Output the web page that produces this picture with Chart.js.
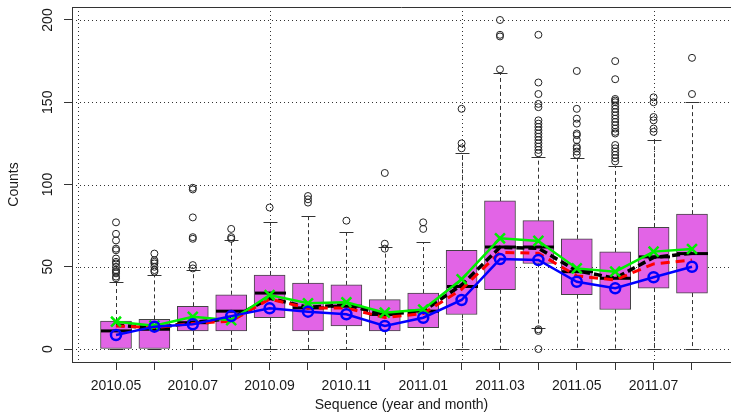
<!DOCTYPE html>
<html>
<head>
<meta charset="utf-8">
<script src="https://cdn.jsdelivr.net/npm/chart.js@4.4.0/dist/chart.umd.min.js"></script>
<style>
  html, body { margin: 0; padding: 0; background: #fff; overflow: hidden; }
  canvas { display: block; }
</style>
</head>
<body>
<canvas id="grafico" width="731" height="412"></canvas>
<script>
// meses da sequência (eixo x)
const meses = ['2010.05', '2010.06', '2010.07', '2010.08', '2010.09', '2010.10', '2010.11', '2010.12',
               '2011.01', '2011.02', '2011.03', '2011.04', '2011.05', '2011.06', '2011.07', '2011.08'];

// caixas: quartis, mediana e bigodes
const q1        = [0, 0, 11, 11, 19, 11, 14, 11, 13, 21, 36, 52, 33, 24, 37, 34];
const q3        = [17, 18, 26, 33, 45, 40, 39, 30, 34, 60, 90, 78, 67, 59, 74, 82];
const mediana   = [11, 12, 16, 23, 34, 25, 26, 21, 23, 38, 62, 62, 47, 43, 56, 58];
const bigodeInf = [0, 0, 0, 0, 0, 0, 0, 0, 0, 0, 0, 13, 0, 0, 0, 0];
const bigodeSup = [41, 45, 48, 66, 77, 81, 71, 62, 65, 119, 168, 117, 116, 111, 127, 150];

// pontos fora dos bigodes, um vetor por mês
const outliers = [
  [43, 44, 46, 47, 48, 50, 52, 53, 55, 60, 61, 66, 70, 77],
  [47, 48, 50, 52, 53, 54, 58],
  [49, 51, 67, 68, 80, 97, 98],
  [67, 68, 73],
  [86],
  [89, 91, 93],
  [78],
  [61, 64, 107],
  [73, 77],
  [122, 125, 146],
  [170, 190, 191, 200],
  [0, 11, 12, 119, 121, 123, 125, 127, 129, 131, 133, 135, 137, 139, 147, 149, 155, 162, 191],
  [118, 120, 122, 123, 127, 130, 131, 137, 140, 146, 169],
  [114, 116, 118, 120, 122, 124, 131, 132, 134, 136, 138, 140, 142, 144, 146, 148, 150, 151, 152, 164, 175],
  [132, 134, 139, 141, 150, 153],
  [155, 177]
];

// linhas sobrepostas
const linhaPreta = [14.6, 12.6, 16.2, 18.5, 30.8, 25.3, 26.8, 20.9, 23.1, 38.9, 61.8, 61.2, 47.6, 43.0, 55.7, 58.2];
const linhaVermelha = [14.0, 13.0, 15.5, 17.0, 30.4, 24.9, 24.9, 19.1, 21.5, 36.3, 58.8, 58.2, 44.4, 42.0, 51.7, 54.1];
const linhaVerde = [16.6, 14.2, 19.6, 17.5, 32.8, 27.8, 28.4, 22.1, 24.0, 42.4, 67.3, 65.7, 49.0, 47.0, 59.2, 60.8];
const linhaAzul = [8.5, 13.6, 15.0, 20.0, 24.7, 22.7, 21.1, 14.0, 19.0, 29.8, 54.7, 54.1, 40.9, 36.9, 43.6, 50.0];

const yTicks = [0, 50, 100, 150, 200];
const linhasVerticais = [0, 5, 10, 15];

const fonte = '"Liberation Sans", Arial, sans-serif';
const corTexto = '#1a1a1a';

Chart.defaults.font.family = fonte;
Chart.defaults.font.size = 14;
Chart.defaults.color = corTexto;

function pontos(valores) {
    return valores.map((v, i) => ({ x: i + 1, y: v }));
}

// grade pontilhada, bigodes, medianas, rótulos do eixo y e moldura
const desenhoBoxplot = {
    id: 'desenhoBoxplot',
    beforeDatasetsDraw(chart) {
        const { ctx, chartArea: a, scales: { x, y } } = chart;
        ctx.save();
        ctx.strokeStyle = '#333';
        ctx.lineWidth = 1;
        ctx.setLineDash([1, 3]);
        ctx.beginPath();
        yTicks.forEach(v => {
            const py = Math.round(y.getPixelForValue(v)) + 0.5;
            ctx.moveTo(a.left, py);
            ctx.lineTo(a.right, py);
        });
        linhasVerticais.forEach(v => {
            const px = Math.round(x.getPixelForValue(v)) + 0.5;
            ctx.moveTo(px, a.top);
            ctx.lineTo(px, a.bottom);
        });
        ctx.stroke();
        ctx.restore();
    },
    afterDatasetDraw(chart, args) {
        if (args.meta.type !== 'bar') return;
        const { ctx, scales: { y } } = chart;
        args.meta.data.forEach((el, i) => {
            const cx = Math.round(el.x) + 0.5;
            const meia = el.width / 2;
            ctx.save();
            ctx.strokeStyle = '#333';
            ctx.lineWidth = 1;
            ctx.setLineDash([4, 3]);
            ctx.beginPath();
            ctx.moveTo(cx, y.getPixelForValue(q3[i]));
            ctx.lineTo(cx, y.getPixelForValue(bigodeSup[i]));
            if (q1[i] > bigodeInf[i]) {
                ctx.moveTo(cx, y.getPixelForValue(q1[i]));
                ctx.lineTo(cx, y.getPixelForValue(bigodeInf[i]));
            }
            ctx.stroke();
            ctx.setLineDash([]);
            ctx.beginPath();
            [bigodeSup[i], bigodeInf[i]].forEach(v => {
                const py = Math.round(y.getPixelForValue(v)) + 0.5;
                ctx.moveTo(cx - meia * 0.45, py);
                ctx.lineTo(cx + meia * 0.45, py);
            });
            ctx.stroke();
            ctx.strokeStyle = '#000';
            ctx.lineWidth = 3;
            ctx.beginPath();
            const pm = y.getPixelForValue(mediana[i]);
            ctx.moveTo(cx - meia, pm);
            ctx.lineTo(cx + meia, pm);
            ctx.stroke();
            ctx.restore();
        });
    },
    afterDraw(chart) {
        const { ctx, chartArea: a, scales: { y } } = chart;
        ctx.save();
        ctx.fillStyle = corTexto;
        ctx.font = '14px ' + fonte;
        ctx.textAlign = 'center';
        ctx.textBaseline = 'middle';
        yTicks.forEach(v => {
            ctx.save();
            ctx.translate(48, y.getPixelForValue(v));
            ctx.rotate(-Math.PI / 2);
            ctx.fillText(String(v), 0, 0);
            ctx.restore();
        });
        ctx.strokeStyle = '#333';
        ctx.lineWidth = 1;
        ctx.beginPath();
        ctx.moveTo(a.left, a.top + 0.5);
        ctx.lineTo(a.right, a.top + 0.5);
        ctx.stroke();
        ctx.restore();
    }
};

const ctx = document.getElementById('grafico').getContext('2d');

new Chart(ctx, {
    type: 'line',
    data: {
        datasets: [
            {
                type: 'line',
                label: 'outliers',
                data: outliers.flatMap((lista, i) => lista.map(v => ({ x: i + 1, y: v }))),
                showLine: false,
                pointStyle: 'circle',
                pointRadius: 3.5,
                pointBorderWidth: 1,
                pointBorderColor: '#222',
                pointBackgroundColor: 'rgba(0,0,0,0)',
                order: 5
            },
            {
                type: 'bar',
                label: 'caixas',
                data: meses.map((m, i) => ({ x: i + 1, y: [q1[i], q3[i]] })),
                backgroundColor: '#e264e6',
                borderColor: '#444',
                borderWidth: 1,
                borderSkipped: false,
                barThickness: 31,
                order: 10
            },
            {
                label: 'preta',
                data: pontos(linhaPreta),
                borderColor: '#000',
                borderWidth: 3.5,
                borderDash: [8, 4],
                pointRadius: 0,
                tension: 0,
                order: 4
            },
            {
                label: 'vermelha',
                data: pontos(linhaVermelha),
                borderColor: '#ff0000',
                borderWidth: 3,
                borderDash: [9, 6],
                pointRadius: 0,
                tension: 0,
                order: 3
            },
            {
                label: 'verde',
                data: pontos(linhaVerde),
                borderColor: '#00ee00',
                borderWidth: 2.5,
                pointStyle: 'crossRot',
                pointRadius: 7,
                pointBorderWidth: 2.5,
                pointBorderColor: '#00ee00',
                tension: 0,
                order: 2
            },
            {
                label: 'azul',
                data: pontos(linhaAzul),
                borderColor: '#0000ff',
                borderWidth: 2.5,
                pointStyle: 'circle',
                pointRadius: 5,
                pointBorderWidth: 2.5,
                pointBorderColor: '#0000ff',
                pointBackgroundColor: 'rgba(0,0,0,0)',
                tension: 0,
                order: 1
            }
        ]
    },
    options: {
        responsive: false,
        animation: false,
        layout: { autoPadding: false, padding: { top: 7, right: 0, bottom: 0, left: 0 } },
        plugins: {
            legend: { display: false },
            tooltip: { enabled: false }
        },
        scales: {
            x: {
                type: 'linear',
                min: -0.146,
                max: 17.016,
                offset: false,
                afterFit: s => { s.height = 50; s.paddingLeft = 0; s.paddingRight = 0; },
                afterBuildTicks: s => { s.ticks = meses.map((m, i) => ({ value: i + 1 })); },
                ticks: {
                    autoSkip: false,
                    maxRotation: 0,
                    padding: 8,
                    color: corTexto,
                    callback: v => (Math.round(v) % 2 === 1 ? meses[Math.round(v) - 1] : '')
                },
                grid: { drawOnChartArea: false, offset: false, tickLength: 8, tickColor: '#333' },
                border: { color: '#333', width: 1 },
                title: {
                    display: true,
                    text: 'Sequence (year and month)',
                    color: corTexto,
                    font: { size: 14 },
                    padding: { top: 0, bottom: -2 }
                }
            },
            y: {
                min: -7.9,
                max: 207.9,
                afterFit: s => { s.width = 72; },
                afterBuildTicks: s => { s.ticks = yTicks.map(v => ({ value: v })); },
                ticks: { display: false },
                grid: { drawOnChartArea: false, tickLength: 8, tickColor: '#333' },
                border: { color: '#333', width: 1 },
                title: {
                    display: true,
                    text: 'Counts',
                    color: corTexto,
                    font: { size: 14 },
                    padding: { top: 6, bottom: 0 }
                }
            }
        }
    },
    plugins: [desenhoBoxplot]
});
</script>
</body>
</html>
